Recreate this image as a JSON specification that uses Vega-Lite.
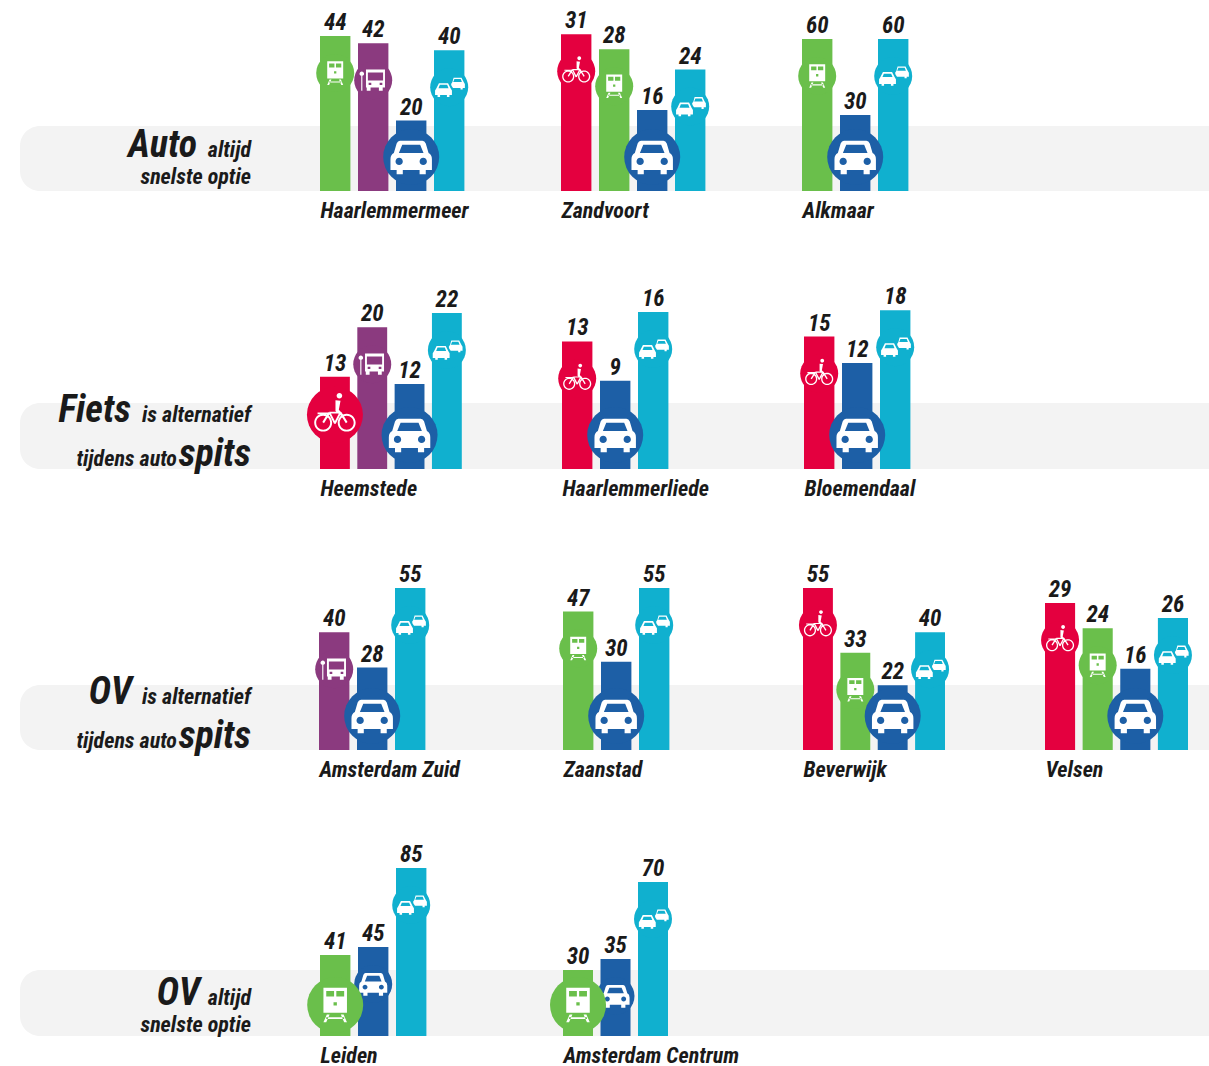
{
"$schema":"https://vega.github.io/schema/vega-lite/v6.json",
"padding":0,"background":"white",
"columns":5,"spacing":0,"bounds":"flush","align":"none",
"data":{"name":"trips"},
"datasets":{"trips":[
{"city":"Haarlemmermeer","mode":"train","minutes":44,"speed":"other"},{"city":"Haarlemmermeer","mode":"bus","minutes":42,"speed":"other"},{"city":"Haarlemmermeer","mode":"car","minutes":20,"speed":"fastest"},{"city":"Haarlemmermeer","mode":"auto","minutes":40,"speed":"other"},
{"city":"Zandvoort","mode":"bike","minutes":31,"speed":"other"},{"city":"Zandvoort","mode":"train","minutes":28,"speed":"other"},{"city":"Zandvoort","mode":"car","minutes":16,"speed":"fastest"},{"city":"Zandvoort","mode":"auto","minutes":24,"speed":"other"},
{"city":"Alkmaar","mode":"train","minutes":60,"speed":"other"},{"city":"Alkmaar","mode":"car","minutes":30,"speed":"fastest"},{"city":"Alkmaar","mode":"auto","minutes":60,"speed":"other"},
{"city":"Heemstede","mode":"bike","minutes":13,"speed":"fastest"},{"city":"Heemstede","mode":"bus","minutes":20,"speed":"other"},{"city":"Heemstede","mode":"car","minutes":12,"speed":"fastest"},{"city":"Heemstede","mode":"auto","minutes":22,"speed":"other"},
{"city":"Haarlemmerliede","mode":"bike","minutes":13,"speed":"other"},{"city":"Haarlemmerliede","mode":"car","minutes":9,"speed":"fastest"},{"city":"Haarlemmerliede","mode":"auto","minutes":16,"speed":"other"},
{"city":"Bloemendaal","mode":"bike","minutes":15,"speed":"other"},{"city":"Bloemendaal","mode":"car","minutes":12,"speed":"fastest"},{"city":"Bloemendaal","mode":"auto","minutes":18,"speed":"other"},
{"city":"Amsterdam Zuid","mode":"bus","minutes":40,"speed":"other"},{"city":"Amsterdam Zuid","mode":"car","minutes":28,"speed":"fastest"},{"city":"Amsterdam Zuid","mode":"auto","minutes":55,"speed":"other"},
{"city":"Zaanstad","mode":"train","minutes":47,"speed":"other"},{"city":"Zaanstad","mode":"car","minutes":30,"speed":"fastest"},{"city":"Zaanstad","mode":"auto","minutes":55,"speed":"other"},
{"city":"Beverwijk","mode":"bike","minutes":55,"speed":"other"},{"city":"Beverwijk","mode":"train","minutes":33,"speed":"other"},{"city":"Beverwijk","mode":"car","minutes":22,"speed":"fastest"},{"city":"Beverwijk","mode":"auto","minutes":40,"speed":"other"},
{"city":"Velsen","mode":"bike","minutes":29,"speed":"other"},{"city":"Velsen","mode":"train","minutes":24,"speed":"other"},{"city":"Velsen","mode":"car","minutes":16,"speed":"fastest"},{"city":"Velsen","mode":"auto","minutes":26,"speed":"other"},
{"city":"Leiden","mode":"train","minutes":41,"speed":"fastest"},{"city":"Leiden","mode":"car","minutes":45,"speed":"other"},{"city":"Leiden","mode":"auto","minutes":85,"speed":"other"},
{"city":"Amsterdam Centrum","mode":"train","minutes":30,"speed":"fastest"},{"city":"Amsterdam Centrum","mode":"car","minutes":35,"speed":"other"},{"city":"Amsterdam Centrum","mode":"auto","minutes":70,"speed":"other"}
]},
"concat":[
{"width":319,"height":191,"layer":[
{"data":{"values":[{"part":"band"}]},"mark":{"type":"rect","style":"lead"},"encoding":{"x":{"datum":20,"scale":{"domain":[0,319],"nice":false},"axis":null},"x2":{"datum":319},"y":{"datum":0,"scale":{"domain":[0,191],"nice":false}},"y2":{"datum":65}}},
{"data":{"values":[{"t":"Auto"}]},"mark":{"type":"text","style":"big"},"encoding":{"x":{"datum":197},"y":{"datum":34},"text":{"field":"t"}}},
{"data":{"values":[{"t":"altijd"}]},"mark":{"type":"text","style":"small"},"encoding":{"x":{"datum":251},"y":{"datum":34},"text":{"field":"t"}}},
{"data":{"values":[{"t":"snelste optie"}]},"mark":{"type":"text","style":"small"},"encoding":{"x":{"datum":251},"y":{"datum":7},"text":{"field":"t"}}}
]},
{"width":242,"height":191,"transform":[{"filter":"datum.city=='Haarlemmermeer'"}],"layer":[
{"mark":{"type":"rect","style":"band"},"encoding":{"y":{"datum":0,"scale":{"domain":[0,54.26],"nice":false}},"y2":{"datum":18.47}}},
{"encoding":{"x":{"field":"mode","type":"nominal","title":"Haarlemmermeer","scale":{"domain":["train","bus","car","auto"],"range":[1,145.4]}},"y":{"field":"minutes","type":"quantitative"},"color":{"field":"mode","type":"nominal","scale":{"domain":["bike","train","bus","car","auto"]},"legend":null}},"layer":[
{"mark":"bar"},
{"mark":{"type":"text","style":"val"},"encoding":{"text":{"field":"minutes"},"color":{"value":"#1a1a1a"}}},
{"transform":[{"filter":"datum.speed=='other'"}],"layer":[{"mark":{"type":"point","style":"sd","yOffset":37},"encoding":{"shape":{"value":"circle"}}},{"mark":{"type":"point","style":"sg","yOffset":37},"encoding":{"color":{"value":"white"},"shape":{"field":"mode","type":"nominal","scale":{"domain":["bike","train","bus","car","auto"]},"legend":null}}}]},
{"transform":[{"filter":"datum.speed=='fastest'"}],"encoding":{"y":{"datum":0}},"layer":[{"mark":{"type":"point","style":"bd","yOffset":-34},"encoding":{"shape":{"value":"circle"}}},{"mark":{"type":"point","style":"bg","yOffset":-34},"encoding":{"color":{"value":"white"},"shape":{"field":"mode","type":"nominal","scale":{"domain":["bike","train","bus","car","auto"]},"legend":null}}}]}
]}]},
{"width":241,"height":191,"transform":[{"filter":"datum.city=='Zandvoort'"}],"layer":[
{"mark":{"type":"rect","style":"band"},"encoding":{"y":{"datum":0,"scale":{"domain":[0,37.75],"nice":false}},"y2":{"datum":12.85}}},
{"encoding":{"x":{"field":"mode","type":"nominal","title":"Zandvoort","scale":{"domain":["bike","train","car","auto"],"range":[0,144.4]}},"y":{"field":"minutes","type":"quantitative"},"color":{"field":"mode","type":"nominal","scale":{"domain":["bike","train","bus","car","auto"]},"legend":null}},"layer":[
{"mark":"bar"},
{"mark":{"type":"text","style":"val"},"encoding":{"text":{"field":"minutes"},"color":{"value":"#1a1a1a"}}},
{"transform":[{"filter":"datum.speed=='other'"}],"layer":[{"mark":{"type":"point","style":"sd","yOffset":37},"encoding":{"shape":{"value":"circle"}}},{"mark":{"type":"point","style":"sg","yOffset":37},"encoding":{"color":{"value":"white"},"shape":{"field":"mode","type":"nominal","scale":{"domain":["bike","train","bus","car","auto"]},"legend":null}}}]},
{"transform":[{"filter":"datum.speed=='fastest'"}],"encoding":{"y":{"datum":0}},"layer":[{"mark":{"type":"point","style":"bd","yOffset":-34},"encoding":{"shape":{"value":"circle"}}},{"mark":{"type":"point","style":"bg","yOffset":-34},"encoding":{"color":{"value":"white"},"shape":{"field":"mode","type":"nominal","scale":{"domain":["bike","train","bus","car","auto"]},"legend":null}}}]}
]}]},
{"width":243,"height":191,"transform":[{"filter":"datum.city=='Alkmaar'"}],"layer":[
{"mark":{"type":"rect","style":"band"},"encoding":{"y":{"datum":0,"scale":{"domain":[0,75.4],"nice":false}},"y2":{"datum":25.66}}},
{"encoding":{"x":{"field":"mode","type":"nominal","title":"Alkmaar","scale":{"domain":["train","car","auto"],"range":[0,106.4]}},"y":{"field":"minutes","type":"quantitative"},"color":{"field":"mode","type":"nominal","scale":{"domain":["bike","train","bus","car","auto"]},"legend":null}},"layer":[
{"mark":"bar"},
{"mark":{"type":"text","style":"val"},"encoding":{"text":{"field":"minutes"},"color":{"value":"#1a1a1a"}}},
{"transform":[{"filter":"datum.speed=='other'"}],"layer":[{"mark":{"type":"point","style":"sd","yOffset":37},"encoding":{"shape":{"value":"circle"}}},{"mark":{"type":"point","style":"sg","yOffset":37},"encoding":{"color":{"value":"white"},"shape":{"field":"mode","type":"nominal","scale":{"domain":["bike","train","bus","car","auto"]},"legend":null}}}]},
{"transform":[{"filter":"datum.speed=='fastest'"}],"encoding":{"y":{"datum":0}},"layer":[{"mark":{"type":"point","style":"bd","yOffset":-34},"encoding":{"shape":{"value":"circle"}}},{"mark":{"type":"point","style":"bg","yOffset":-34},"encoding":{"color":{"value":"white"},"shape":{"field":"mode","type":"nominal","scale":{"domain":["bike","train","bus","car","auto"]},"legend":null}}}]}
]}]},
{"width":164,"height":191,"data":{"values":[{"part":"band"}]},"mark":{"type":"rect","style":"band"},"encoding":{"y":{"datum":0,"scale":{"domain":[0,191],"nice":false}},"y2":{"datum":65}}},

{"width":319,"height":278,"layer":[
{"data":{"values":[{"part":"band"}]},"mark":{"type":"rect","style":"lead"},"encoding":{"x":{"datum":20,"scale":{"domain":[0,319],"nice":false},"axis":null},"x2":{"datum":319},"y":{"datum":0,"scale":{"domain":[0,278],"nice":false}},"y2":{"datum":66}}},
{"data":{"values":[{"t":"Fiets"}]},"mark":{"type":"text","style":"big"},"encoding":{"x":{"datum":131},"y":{"datum":47},"text":{"field":"t"}}},
{"data":{"values":[{"t":"is alternatief"}]},"mark":{"type":"text","style":"small"},"encoding":{"x":{"datum":251},"y":{"datum":47},"text":{"field":"t"}}},
{"data":{"values":[{"t":"tijdens auto"}]},"mark":{"type":"text","style":"small"},"encoding":{"x":{"datum":177},"y":{"datum":3},"text":{"field":"t"}}},
{"data":{"values":[{"t":"spits"}]},"mark":{"type":"text","style":"big"},"encoding":{"x":{"datum":251},"y":{"datum":3},"text":{"field":"t"}}}
]},
{"width":242,"height":278,"transform":[{"filter":"datum.city=='Heemstede'"}],"layer":[
{"mark":{"type":"rect","style":"band"},"encoding":{"y":{"datum":0,"scale":{"domain":[0,39.2],"nice":false}},"y2":{"datum":9.31}}},
{"encoding":{"x":{"field":"mode","type":"nominal","title":"Heemstede","scale":{"domain":["bike","bus","car","auto"],"range":[1,142.8]}},"y":{"field":"minutes","type":"quantitative"},"color":{"field":"mode","type":"nominal","scale":{"domain":["bike","train","bus","car","auto"]},"legend":null}},"layer":[
{"mark":"bar"},
{"mark":{"type":"text","style":"val"},"encoding":{"text":{"field":"minutes"},"color":{"value":"#1a1a1a"}}},
{"transform":[{"filter":"datum.speed=='other'"}],"layer":[{"mark":{"type":"point","style":"sd","yOffset":37},"encoding":{"shape":{"value":"circle"}}},{"mark":{"type":"point","style":"sg","yOffset":37},"encoding":{"color":{"value":"white"},"shape":{"field":"mode","type":"nominal","scale":{"domain":["bike","train","bus","car","auto"]},"legend":null}}}]},
{"transform":[{"filter":"datum.mode=='bike'"}],"layer":[{"mark":{"type":"point","style":"bd","yOffset":38},"encoding":{"shape":{"value":"circle"}}},{"mark":{"type":"point","style":"bg","yOffset":38},"encoding":{"color":{"value":"white"},"shape":{"field":"mode","type":"nominal","scale":{"domain":["bike","train","bus","car","auto"]},"legend":null}}}]},
{"transform":[{"filter":"datum.mode=='car'"}],"encoding":{"y":{"datum":0}},"layer":[{"mark":{"type":"point","style":"bd","yOffset":-34},"encoding":{"shape":{"value":"circle"}}},{"mark":{"type":"point","style":"bg","yOffset":-34},"encoding":{"color":{"value":"white"},"shape":{"field":"mode","type":"nominal","scale":{"domain":["bike","train","bus","car","auto"]},"legend":null}}}]}
]}]},
{"width":241,"height":278,"transform":[{"filter":"datum.city=='Haarlemmerliede'"}],"layer":[
{"mark":{"type":"rect","style":"band"},"encoding":{"y":{"datum":0,"scale":{"domain":[0,28.34],"nice":false}},"y2":{"datum":6.73}}},
{"encoding":{"x":{"field":"mode","type":"nominal","title":"Haarlemmerliede","scale":{"domain":["bike","car","auto"],"range":[1,107.4]}},"y":{"field":"minutes","type":"quantitative"},"color":{"field":"mode","type":"nominal","scale":{"domain":["bike","train","bus","car","auto"]},"legend":null}},"layer":[
{"mark":"bar"},
{"mark":{"type":"text","style":"val"},"encoding":{"text":{"field":"minutes"},"color":{"value":"#1a1a1a"}}},
{"transform":[{"filter":"datum.speed=='other'"}],"layer":[{"mark":{"type":"point","style":"sd","yOffset":37},"encoding":{"shape":{"value":"circle"}}},{"mark":{"type":"point","style":"sg","yOffset":37},"encoding":{"color":{"value":"white"},"shape":{"field":"mode","type":"nominal","scale":{"domain":["bike","train","bus","car","auto"]},"legend":null}}}]},
{"transform":[{"filter":"datum.speed=='fastest'"}],"encoding":{"y":{"datum":0}},"layer":[{"mark":{"type":"point","style":"bd","yOffset":-34},"encoding":{"shape":{"value":"circle"}}},{"mark":{"type":"point","style":"bg","yOffset":-34},"encoding":{"color":{"value":"white"},"shape":{"field":"mode","type":"nominal","scale":{"domain":["bike","train","bus","car","auto"]},"legend":null}}}]}
]}]},
{"width":243,"height":278,"transform":[{"filter":"datum.city=='Bloemendaal'"}],"layer":[
{"mark":{"type":"rect","style":"band"},"encoding":{"y":{"datum":0,"scale":{"domain":[0,31.5],"nice":false}},"y2":{"datum":7.47}}},
{"encoding":{"x":{"field":"mode","type":"nominal","title":"Bloemendaal","scale":{"domain":["bike","car","auto"],"range":[2,108.4]}},"y":{"field":"minutes","type":"quantitative"},"color":{"field":"mode","type":"nominal","scale":{"domain":["bike","train","bus","car","auto"]},"legend":null}},"layer":[
{"mark":"bar"},
{"mark":{"type":"text","style":"val"},"encoding":{"text":{"field":"minutes"},"color":{"value":"#1a1a1a"}}},
{"transform":[{"filter":"datum.speed=='other'"}],"layer":[{"mark":{"type":"point","style":"sd","yOffset":37},"encoding":{"shape":{"value":"circle"}}},{"mark":{"type":"point","style":"sg","yOffset":37},"encoding":{"color":{"value":"white"},"shape":{"field":"mode","type":"nominal","scale":{"domain":["bike","train","bus","car","auto"]},"legend":null}}}]},
{"transform":[{"filter":"datum.speed=='fastest'"}],"encoding":{"y":{"datum":0}},"layer":[{"mark":{"type":"point","style":"bd","yOffset":-34},"encoding":{"shape":{"value":"circle"}}},{"mark":{"type":"point","style":"bg","yOffset":-34},"encoding":{"color":{"value":"white"},"shape":{"field":"mode","type":"nominal","scale":{"domain":["bike","train","bus","car","auto"]},"legend":null}}}]}
]}]},
{"width":164,"height":278,"data":{"values":[{"part":"band"}]},"mark":{"type":"rect","style":"band"},"encoding":{"y":{"datum":0,"scale":{"domain":[0,278],"nice":false}},"y2":{"datum":66}}},

{"width":319,"height":281,"layer":[
{"data":{"values":[{"part":"band"}]},"mark":{"type":"rect","style":"lead"},"encoding":{"x":{"datum":20,"scale":{"domain":[0,319],"nice":false},"axis":null},"x2":{"datum":319},"y":{"datum":0,"scale":{"domain":[0,281],"nice":false}},"y2":{"datum":65}}},
{"data":{"values":[{"t":"OV"}]},"mark":{"type":"text","style":"big"},"encoding":{"x":{"datum":132},"y":{"datum":46},"text":{"field":"t"}}},
{"data":{"values":[{"t":"is alternatief"}]},"mark":{"type":"text","style":"small"},"encoding":{"x":{"datum":251},"y":{"datum":46},"text":{"field":"t"}}},
{"data":{"values":[{"t":"tijdens auto"}]},"mark":{"type":"text","style":"small"},"encoding":{"x":{"datum":177},"y":{"datum":2},"text":{"field":"t"}}},
{"data":{"values":[{"t":"spits"}]},"mark":{"type":"text","style":"big"},"encoding":{"x":{"datum":251},"y":{"datum":2},"text":{"field":"t"}}}
]},
{"width":242,"height":281,"transform":[{"filter":"datum.city=='Amsterdam Zuid'"}],"layer":[
{"mark":{"type":"rect","style":"band"},"encoding":{"y":{"datum":0,"scale":{"domain":[0,95.4],"nice":false}},"y2":{"datum":22.07}}},
{"encoding":{"x":{"field":"mode","type":"nominal","title":"Amsterdam Zuid","scale":{"domain":["bus","car","auto"],"range":[0,106.4]}},"y":{"field":"minutes","type":"quantitative"},"color":{"field":"mode","type":"nominal","scale":{"domain":["bike","train","bus","car","auto"]},"legend":null}},"layer":[
{"mark":"bar"},
{"mark":{"type":"text","style":"val"},"encoding":{"text":{"field":"minutes"},"color":{"value":"#1a1a1a"}}},
{"transform":[{"filter":"datum.speed=='other'"}],"layer":[{"mark":{"type":"point","style":"sd","yOffset":37},"encoding":{"shape":{"value":"circle"}}},{"mark":{"type":"point","style":"sg","yOffset":37},"encoding":{"color":{"value":"white"},"shape":{"field":"mode","type":"nominal","scale":{"domain":["bike","train","bus","car","auto"]},"legend":null}}}]},
{"transform":[{"filter":"datum.speed=='fastest'"}],"encoding":{"y":{"datum":0}},"layer":[{"mark":{"type":"point","style":"bd","yOffset":-34},"encoding":{"shape":{"value":"circle"}}},{"mark":{"type":"point","style":"bg","yOffset":-34},"encoding":{"color":{"value":"white"},"shape":{"field":"mode","type":"nominal","scale":{"domain":["bike","train","bus","car","auto"]},"legend":null}}}]}
]}]},
{"width":241,"height":281,"transform":[{"filter":"datum.city=='Zaanstad'"}],"layer":[
{"mark":{"type":"rect","style":"band"},"encoding":{"y":{"datum":0,"scale":{"domain":[0,95.4],"nice":false}},"y2":{"datum":22.07}}},
{"encoding":{"x":{"field":"mode","type":"nominal","title":"Zaanstad","scale":{"domain":["train","car","auto"],"range":[2,108.4]}},"y":{"field":"minutes","type":"quantitative"},"color":{"field":"mode","type":"nominal","scale":{"domain":["bike","train","bus","car","auto"]},"legend":null}},"layer":[
{"mark":"bar"},
{"mark":{"type":"text","style":"val"},"encoding":{"text":{"field":"minutes"},"color":{"value":"#1a1a1a"}}},
{"transform":[{"filter":"datum.speed=='other'"}],"layer":[{"mark":{"type":"point","style":"sd","yOffset":37},"encoding":{"shape":{"value":"circle"}}},{"mark":{"type":"point","style":"sg","yOffset":37},"encoding":{"color":{"value":"white"},"shape":{"field":"mode","type":"nominal","scale":{"domain":["bike","train","bus","car","auto"]},"legend":null}}}]},
{"transform":[{"filter":"datum.speed=='fastest'"}],"encoding":{"y":{"datum":0}},"layer":[{"mark":{"type":"point","style":"bd","yOffset":-34},"encoding":{"shape":{"value":"circle"}}},{"mark":{"type":"point","style":"bg","yOffset":-34},"encoding":{"color":{"value":"white"},"shape":{"field":"mode","type":"nominal","scale":{"domain":["bike","train","bus","car","auto"]},"legend":null}}}]}
]}]},
{"width":243,"height":281,"transform":[{"filter":"datum.city=='Beverwijk'"}],"layer":[
{"mark":{"type":"rect","style":"band"},"encoding":{"y":{"datum":0,"scale":{"domain":[0,95.4],"nice":false}},"y2":{"datum":22.07}}},
{"encoding":{"x":{"field":"mode","type":"nominal","title":"Beverwijk","scale":{"domain":["bike","train","car","auto"],"range":[1,143]}},"y":{"field":"minutes","type":"quantitative"},"color":{"field":"mode","type":"nominal","scale":{"domain":["bike","train","bus","car","auto"]},"legend":null}},"layer":[
{"mark":"bar"},
{"mark":{"type":"text","style":"val"},"encoding":{"text":{"field":"minutes"},"color":{"value":"#1a1a1a"}}},
{"transform":[{"filter":"datum.speed=='other'"}],"layer":[{"mark":{"type":"point","style":"sd","yOffset":37},"encoding":{"shape":{"value":"circle"}}},{"mark":{"type":"point","style":"sg","yOffset":37},"encoding":{"color":{"value":"white"},"shape":{"field":"mode","type":"nominal","scale":{"domain":["bike","train","bus","car","auto"]},"legend":null}}}]},
{"transform":[{"filter":"datum.speed=='fastest'"}],"encoding":{"y":{"datum":0}},"layer":[{"mark":{"type":"point","style":"bd","yOffset":-34},"encoding":{"shape":{"value":"circle"}}},{"mark":{"type":"point","style":"bg","yOffset":-34},"encoding":{"color":{"value":"white"},"shape":{"field":"mode","type":"nominal","scale":{"domain":["bike","train","bus","car","auto"]},"legend":null}}}]}
]}]},
{"width":164,"height":281,"transform":[{"filter":"datum.city=='Velsen'"}],"layer":[
{"mark":{"type":"rect","style":"band"},"encoding":{"y":{"datum":0,"scale":{"domain":[0,55.4],"nice":false}},"y2":{"datum":12.82}}},
{"encoding":{"x":{"field":"mode","type":"nominal","title":"Velsen","scale":{"domain":["bike","train","car","auto"],"range":[0,143]}},"y":{"field":"minutes","type":"quantitative"},"color":{"field":"mode","type":"nominal","scale":{"domain":["bike","train","bus","car","auto"]},"legend":null}},"layer":[
{"mark":"bar"},
{"mark":{"type":"text","style":"val"},"encoding":{"text":{"field":"minutes"},"color":{"value":"#1a1a1a"}}},
{"transform":[{"filter":"datum.speed=='other'"}],"layer":[{"mark":{"type":"point","style":"sd","yOffset":37},"encoding":{"shape":{"value":"circle"}}},{"mark":{"type":"point","style":"sg","yOffset":37},"encoding":{"color":{"value":"white"},"shape":{"field":"mode","type":"nominal","scale":{"domain":["bike","train","bus","car","auto"]},"legend":null}}}]},
{"transform":[{"filter":"datum.speed=='fastest'"}],"encoding":{"y":{"datum":0}},"layer":[{"mark":{"type":"point","style":"bd","yOffset":-34},"encoding":{"shape":{"value":"circle"}}},{"mark":{"type":"point","style":"bg","yOffset":-34},"encoding":{"color":{"value":"white"},"shape":{"field":"mode","type":"nominal","scale":{"domain":["bike","train","bus","car","auto"]},"legend":null}}}]}
]}]},

{"width":319,"height":286,"layer":[
{"data":{"values":[{"part":"band"}]},"mark":{"type":"rect","style":"lead"},"encoding":{"x":{"datum":20,"scale":{"domain":[0,319],"nice":false},"axis":null},"x2":{"datum":319},"y":{"datum":0,"scale":{"domain":[0,286],"nice":false}},"y2":{"datum":66}}},
{"data":{"values":[{"t":"OV"}]},"mark":{"type":"text","style":"big"},"encoding":{"x":{"datum":200},"y":{"datum":31},"text":{"field":"t"}}},
{"data":{"values":[{"t":"altijd"}]},"mark":{"type":"text","style":"small"},"encoding":{"x":{"datum":251},"y":{"datum":31},"text":{"field":"t"}}},
{"data":{"values":[{"t":"snelste optie"}]},"mark":{"type":"text","style":"small"},"encoding":{"x":{"datum":251},"y":{"datum":4},"text":{"field":"t"}}}
]},
{"width":242,"height":286,"transform":[{"filter":"datum.city=='Leiden'"}],"layer":[
{"mark":{"type":"rect","style":"band"},"encoding":{"y":{"datum":0,"scale":{"domain":[0,144.7],"nice":false}},"y2":{"datum":33.4}}},
{"encoding":{"x":{"field":"mode","type":"nominal","title":"Leiden","scale":{"domain":["train","car","auto"],"range":[1,107.4]}},"y":{"field":"minutes","type":"quantitative"},"color":{"field":"mode","type":"nominal","scale":{"domain":["bike","train","bus","car","auto"]},"legend":null}},"layer":[
{"mark":"bar"},
{"mark":{"type":"text","style":"val"},"encoding":{"text":{"field":"minutes"},"color":{"value":"#1a1a1a"}}},
{"transform":[{"filter":"datum.speed=='other'"}],"layer":[{"mark":{"type":"point","style":"sd","yOffset":37},"encoding":{"shape":{"value":"circle"}}},{"mark":{"type":"point","style":"sg","yOffset":37},"encoding":{"color":{"value":"white"},"shape":{"field":"mode","type":"nominal","scale":{"domain":["bike","train","bus","car","auto"]},"legend":null}}}]},
{"transform":[{"filter":"datum.speed=='fastest'"}],"encoding":{"y":{"datum":0}},"layer":[{"mark":{"type":"point","style":"bd","yOffset":-31},"encoding":{"shape":{"value":"circle"}}},{"mark":{"type":"point","style":"bg","yOffset":-31},"encoding":{"color":{"value":"white"},"shape":{"field":"mode","type":"nominal","scale":{"domain":["bike","train","bus","car","auto"]},"legend":null}}}]}
]}]},
{"width":241,"height":286,"transform":[{"filter":"datum.city=='Amsterdam Centrum'"}],"layer":[
{"mark":{"type":"rect","style":"band"},"encoding":{"y":{"datum":0,"scale":{"domain":[0,130],"nice":false}},"y2":{"datum":30}}},
{"encoding":{"x":{"field":"mode","type":"nominal","title":"Amsterdam Centrum","scale":{"domain":["train","car","auto"],"range":[2,107]}},"y":{"field":"minutes","type":"quantitative"},"color":{"field":"mode","type":"nominal","scale":{"domain":["bike","train","bus","car","auto"]},"legend":null}},"layer":[
{"mark":"bar"},
{"mark":{"type":"text","style":"val"},"encoding":{"text":{"field":"minutes"},"color":{"value":"#1a1a1a"}}},
{"transform":[{"filter":"datum.speed=='other'"}],"layer":[{"mark":{"type":"point","style":"sd","yOffset":37},"encoding":{"shape":{"value":"circle"}}},{"mark":{"type":"point","style":"sg","yOffset":37},"encoding":{"color":{"value":"white"},"shape":{"field":"mode","type":"nominal","scale":{"domain":["bike","train","bus","car","auto"]},"legend":null}}}]},
{"transform":[{"filter":"datum.speed=='fastest'"}],"encoding":{"y":{"datum":0}},"layer":[{"mark":{"type":"point","style":"bd","yOffset":-31},"encoding":{"shape":{"value":"circle"}}},{"mark":{"type":"point","style":"bg","yOffset":-31},"encoding":{"color":{"value":"white"},"shape":{"field":"mode","type":"nominal","scale":{"domain":["bike","train","bus","car","auto"]},"legend":null}}}]}
]}]},
{"width":243,"height":286,"data":{"values":[{"part":"band"}]},"mark":{"type":"rect","style":"band"},"encoding":{"y":{"datum":0,"scale":{"domain":[0,286],"nice":false}},"y2":{"datum":66}}},
{"width":164,"height":286,"data":{"values":[{"part":"band"}]},"mark":{"type":"rect","style":"band"},"encoding":{"y":{"datum":0,"scale":{"domain":[0,286],"nice":false}},"y2":{"datum":66}}}
],
"config":{
"view":{"stroke":null},
"font":"Roboto Condensed, Roboto",
"rect":{"color":"#f3f3f3","opacity":1},
"text":{"color":"#1a1a1a"},
"scale":{"bandPaddingInner":0.2,"bandPaddingOuter":0},
"axisY":{"disable":true},
"axisX":{"domain":false,"ticks":false,"labels":false,"grid":false,"titleFont":"Roboto Condensed, Roboto","titleFontSize":22,"titleFontWeight":"bold","titleFontStyle":"italic","titleColor":"#1a1a1a","titleAnchor":"start","titleAlign":"left","titlePadding":9},
"range":{
"category":["#e4003f","#6abf4b","#8b3a7f","#1d5fa6","#10b0cf"],
"symbol":[
"M-.74 .28A.32 .32 0 0 1 -.1 .28A.32 .32 0 0 1 -.74 .28ZM-.67 .28A.25 .25 0 0 0 -.17 .28A.25 .25 0 0 0 -.67 .28ZM.1 .28A.32 .32 0 0 1 .74 .28A.32 .32 0 0 1 .1 .28ZM.17 .28A.25 .25 0 0 0 .67 .28A.25 .25 0 0 0 .17 .28ZM-.45 .26L-.23 -.1L-.17 -.06L-.39 .3ZM-.2 -.11H.22V-.05H-.2ZM.17 -.06L.23 -.1L.45 .26L.39 .3ZM-.23 -.07L-.17 -.1L.03 .28L-.03 .32ZM-.03 .28L.17 -.1L.23 -.07L.03 .32ZM.02 -.52L.2 -.5L.14 -.18L.3 0L.24 .06L.02 -.14ZM.06 -.68A.1 .1 0 0 1 .26 -.68A.1 .1 0 0 1 .06 -.68ZM-.62 -.08H-.2V-.02H-.62Z",
"M-.42 -.62H.42V.28H-.42ZM-.32 -.5V-.3H-.04V-.5ZM.04 -.5V-.3H.32V-.5ZM-.06 -.1V.02H.06V-.1ZM-.3 .34L-.42 .62H-.32L-.2 .34ZM.2 .34L.32 .62H.42L.3 .34ZM-.32 .44H.32V.5H-.32Z",
"M-.38 -.56H.62V.38H.5V.56H.3V.38H-.14V.56H-.34V.38H-.38ZM-.28 -.4V.02H.52V-.4ZM-.24 .14V.26H-.1V.14ZM.34 .14V.26H.48V.14ZM-.72 -.34A.12 .12 0 0 1 -.48 -.34A.12 .12 0 0 1 -.72 -.34ZM-.63 -.3H-.57V.56H-.63Z",
"M-.4 -.58H.4Q.48 -.58 .52 -.48L.62 -.14Q.74 -.08 .74 .08V.46H.52V.62H.3V.46H-.3V.62H-.52V.46H-.74V.08Q-.74 -.08 -.62 -.14L-.52 -.48Q-.48 -.58 -.4 -.58ZM-.32 -.44L-.44 -.14H.44L.32 -.44ZM-.56 .16A.13 .13 0 0 0 -.3 .16A.13 .13 0 0 0 -.56 .16ZM.3 .16A.13 .13 0 0 0 .56 .16A.13 .13 0 0 0 .3 .16Z",
"M-.54 -.208H-.06L.072 .056L.144 .176V.416H.012V.512H-.12V.416H-.48V.512H-.612V.416H-.744V.176L-.672 .056ZM-.492 -.124L-.564 .056H-.036L-.108 -.124ZM.232 -.502H.648L.762 -.273L.825 -.169V.039H.71V.122H.596V.039H.2L.12 -.08L.1 -.169L.17 -.273ZM.274 -.429L.211 -.273H.669L.606 -.429Z"
]},
"style":{
"band":{"fill":"#f3f3f3"},
"lead":{"fill":"#f3f3f3","cornerRadiusTopLeft":20,"cornerRadiusBottomLeft":20},
"val":{"font":"Roboto Condensed, Roboto","fontSize":23,"fontWeight":"bold","fontStyle":"italic","align":"center","baseline":"alphabetic","dy":-6},
"big":{"font":"Roboto Condensed, Roboto","fontSize":38,"fontWeight":"bold","fontStyle":"italic","align":"right","baseline":"alphabetic"},
"small":{"font":"Roboto Condensed, Roboto","fontSize":22,"fontWeight":"bold","fontStyle":"italic","align":"right","baseline":"alphabetic"},
"sd":{"filled":true,"opacity":1,"strokeWidth":0,"size":1444},
"sg":{"filled":true,"opacity":1,"strokeWidth":0,"size":1444},
"bd":{"filled":true,"opacity":1,"strokeWidth":0,"size":3136},
"bg":{"filled":true,"opacity":1,"strokeWidth":0,"size":3136}
}
}
}
